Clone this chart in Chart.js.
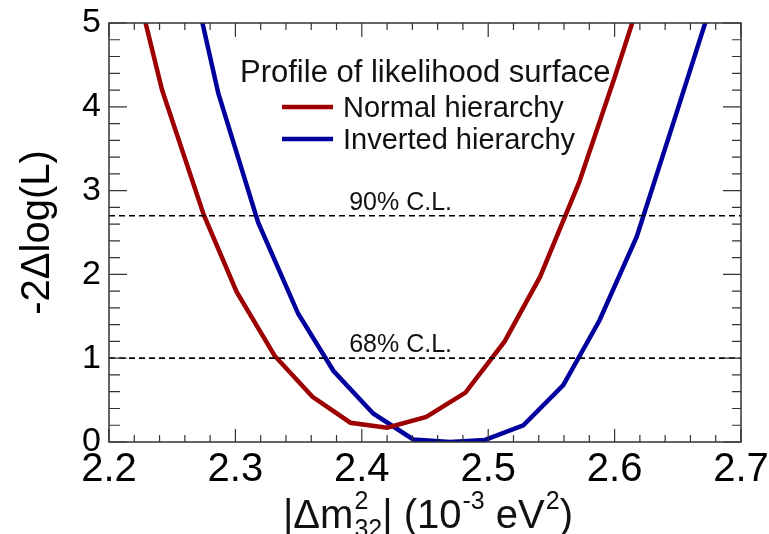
<!DOCTYPE html>
<html>
<head>
<meta charset="utf-8">
<script src="https://cdn.jsdelivr.net/npm/chart.js@4.4.1/dist/chart.umd.min.js"></script>
<style>
  html, body { margin: 0; padding: 0; background: #fff; }
</style>
</head>
<body>
<canvas id="chart" width="769" height="534"></canvas>
<script>
const FONT = "'Liberation Sans', Arial, Helvetica, sans-serif";

// profile curves
const normalX = [2.211, 2.242, 2.275, 2.301, 2.331, 2.361, 2.391, 2.420, 2.451, 2.482, 2.513, 2.541, 2.572, 2.600, 2.630];
const normalY = [6.10, 4.20, 2.71, 1.79, 1.03, 0.54, 0.23, 0.17, 0.30, 0.59, 1.20, 1.97, 3.10, 4.35, 5.75];
const invertedX = [2.256, 2.2865, 2.318, 2.3497, 2.3775, 2.409, 2.4407, 2.4698, 2.4975, 2.5278, 2.5594, 2.588, 2.6175, 2.648, 2.678];
const invertedY = [6.20, 4.16, 2.62, 1.53, 0.85, 0.34, 0.03, 0.00, 0.025, 0.20, 0.68, 1.45, 2.45, 3.88, 5.30];

const seriesNames = ['Normal hierarchy', 'Inverted hierarchy'];
const legendTitle = 'Profile of likelihood surface';
const clLevels = [2.7, 1.0];
const clLabels = ['90% C.L.', '68% C.L.'];
const clLabelX = 2.39;
const xRange = [2.2, 2.7];
const yRange = [0, 5];

const colors = ['#9c0000', '#00009c'];

function toPoints(xs, ys) {
  return xs.map((x, i) => ({ x: x, y: ys[i] }));
}

const clDatasets = clLevels.map(level => ({
  data: [{ x: xRange[0], y: level }, { x: xRange[1], y: level }],
  borderColor: '#000',
  borderWidth: 1.7,
  borderDash: [6, 4],
  pointRadius: 0,
  clip: 0,
}));

// ROOT-style frame, inside ticks, legend, labels and the x title
const rootDecor = {
  id: 'rootDecor',
  afterDraw(chart) {
    const ctx = chart.ctx;
    const { left, right, top, bottom } = chart.chartArea;
    const xs = chart.scales.x;
    const ys = chart.scales.y;
    ctx.save();

    ctx.strokeStyle = '#333';
    ctx.lineWidth = 1.5;
    ctx.strokeRect(left, top, right - left, bottom - top);

    ctx.lineWidth = 1.2;
    ctx.beginPath();
    for (let i = 0; i <= 25; i++) {
      const px = xs.getPixelForValue(xRange[0] + i * 0.02);
      const major = i % 5 === 0;
      ctx.moveTo(px, bottom);
      ctx.lineTo(px, bottom - (major ? 13 : 7));
      ctx.moveTo(px, top);
      ctx.lineTo(px, top + (major ? 14 : 7));
    }
    for (let i = 0; i <= 25; i++) {
      const py = ys.getPixelForValue(yRange[0] + i * 0.2);
      const major = i % 5 === 0;
      ctx.moveTo(left, py);
      ctx.lineTo(left + (major ? 18 : 11), py);
      ctx.moveTo(right, py);
      ctx.lineTo(right - (major ? 18 : 9), py);
    }
    ctx.stroke();

    // legend
    ctx.fillStyle = '#111';
    ctx.textBaseline = 'alphabetic';
    ctx.textAlign = 'left';
    ctx.font = `31px ${FONT}`;
    ctx.fillText(legendTitle, 240, 82);
    ctx.font = `29px ${FONT}`;
    const rows = [107, 139];
    seriesNames.forEach((name, i) => {
      ctx.strokeStyle = colors[i];
      ctx.lineWidth = 4.5;
      ctx.beginPath();
      ctx.moveTo(282, rows[i]);
      ctx.lineTo(333, rows[i]);
      ctx.stroke();
      ctx.fillText(name, 343, rows[i] + 10);
    });

    // confidence level labels
    ctx.font = `25px ${FONT}`;
    clLevels.forEach((level, i) => {
      ctx.fillText(clLabels[i], xs.getPixelForValue(clLabelX), ys.getPixelForValue(level) - 6);
    });

    // x title with super/subscripts
    const big = `40px ${FONT}`;
    const small = `25px ${FONT}`;
    const segs = [
      ['|\u0394m', 'main'], ['2', 'supsub', '32'], ['| (10', 'main'],
      ['-3', 'sup'], [' eV', 'main'], ['2', 'sup'], [')', 'main'],
    ];
    const baseY = 528, supY = 509, subY = 537;
    let total = 0;
    const widths = segs.map(s => {
      ctx.font = s[1] === 'main' ? big : small;
      let w = ctx.measureText(s[0]).width;
      if (s[2]) w = Math.max(w, ctx.measureText(s[2]).width);
      total += w + (s[1] === 'main' ? 0 : 1);
      return w + (s[1] === 'main' ? 0 : 1);
    });
    let x = (left + right) / 2 - total / 2 + 3;
    segs.forEach((s, i) => {
      if (s[1] === 'main') {
        ctx.font = big;
        ctx.fillText(s[0], x, baseY);
      } else {
        ctx.font = small;
        ctx.fillText(s[0], x + 1, supY);
        if (s[2]) ctx.fillText(s[2], x + 1, subY);
      }
      x += widths[i];
    });

    ctx.restore();
  },
};

new Chart(document.getElementById('chart'), {
  type: 'line',
  data: {
    datasets: [
      ...clDatasets,
      {
        label: seriesNames[0],
        data: toPoints(normalX, normalY),
        borderColor: colors[0],
        borderWidth: 4.5,
        pointRadius: 0,
        clip: 0,
      },
      {
        label: seriesNames[1],
        data: toPoints(invertedX, invertedY),
        borderColor: colors[1],
        borderWidth: 4.5,
        pointRadius: 0,
        clip: 0,
      },
    ],
  },
  options: {
    responsive: false,
    animation: false,
    layout: { padding: { top: 23, right: 28, left: 0, bottom: 0 } },
    plugins: { legend: { display: false }, tooltip: { enabled: false } },
    scales: {
      x: {
        type: 'linear',
        min: xRange[0],
        max: xRange[1],
        grid: { display: false, drawTicks: false },
        border: { display: false },
        ticks: {
          stepSize: 0.1,
          maxRotation: 0,
          padding: 4,
          color: '#000',
          font: { family: FONT, size: 40 },
          callback: v => v.toFixed(1),
        },
        afterFit(scale) {
          scale.height = 92;
          scale.paddingLeft = 0;
          scale.paddingRight = 0;
        },
      },
      y: {
        min: yRange[0],
        max: yRange[1],
        grid: { display: false, drawTicks: false },
        border: { display: false },
        ticks: {
          stepSize: 1,
          padding: 8,
          color: '#000',
          font: { family: FONT, size: 34 },
        },
        title: {
          display: true,
          text: '-2\u0394log(L)',
          color: '#000',
          padding: { top: 14, bottom: 0 },
          font: { family: FONT, size: 40 },
        },
        afterFit(scale) {
          scale.width = 109;
          scale.paddingTop = 0;
          scale.paddingBottom = 0;
        },
      },
    },
  },
  plugins: [rootDecor],
});
</script>
</body>
</html>
